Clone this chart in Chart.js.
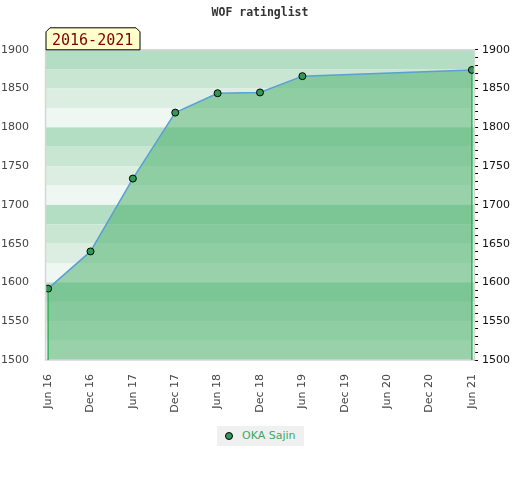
<!DOCTYPE html>
<html lang="en">
<head>
  <meta charset="UTF-8">
  <title>WOF ratinglist</title>
  <script src="https://cdn.jsdelivr.net/npm/chart.js"></script>
  <style>
    body { margin: 0; background: #fff; font-family: "DejaVu Sans", sans-serif; }
    #wrap { position: relative; width: 520px; height: 480px; }
    #legend {
      position: absolute; left: 217px; top: 426px; width: 87px; height: 20px;
      background: #f0f0f0; font-size: 11px; color: #3ea864; line-height: 20px;
    }
    #legend .dot {
      position: absolute; left: 8px; top: 6px; width: 6px; height: 6px;
      border-radius: 50%; background: #2f9a56; border: 1px solid #000;
    }
    #legend .txt { position: absolute; left: 25px; top: 0; }
  </style>
</head>
<body>
  <div id="wrap">
    <canvas id="ratingChart" width="520" height="480"></canvas>
    <div id="legend"><span class="dot"></span><span class="txt">OKA Sajin</span></div>
  </div>

  <script>
    // periods on the x axis
    const periods = ["Jun 16", "Dec 16", "Jun 17", "Dec 17", "Jun 18", "Dec 18",
                     "Jun 19", "Dec 19", "Jun 20", "Dec 20", "Jun 21"];
    // rating per period (null = no list entry)
    const ratings = [1592, 1640, 1734, 1819, 1844, 1845, 1866, null, null, null, 1874];
    const playerName = "OKA Sajin";
    const rangeLabel = "2016-2021";
    const yMin = 1500, yMax = 1900;

    const bandColors = ["#b3dec3", "#c8e6d2", "#dbeee1", "#eef7f1"];

    const points = [];
    ratings.forEach((r, i) => { points.push({ x: i, y: r }); });

    // striped background behind the plot
    const bands = {
      id: "bands",
      beforeDraw(chart) {
        const { ctx, chartArea: a, scales: { y } } = chart;
        ctx.save();
        let k = 0;
        for (let v = yMax; v > yMin; v -= 25) {
          const top = y.getPixelForValue(v), bot = y.getPixelForValue(v - 25);
          ctx.fillStyle = bandColors[k % 4];
          ctx.fillRect(a.left, top, a.right - a.left, bot - top);
          k++;
        }
        ctx.restore();
      },
      afterDatasetsDraw(chart) {
        const { ctx, chartArea: a, scales: { x, y } } = chart;
        ctx.save();
        // plot frame
        ctx.strokeStyle = "#d6d6d6";
        ctx.lineWidth = 1.5;
        ctx.strokeRect(a.left - 0.5, a.top, a.right - a.left + 1, a.bottom - a.top);
        // edges of the filled area
        const valid = points.filter(p => p.y !== null);
        [valid[0], valid[valid.length - 1]].forEach(p => {
          const px = x.getPixelForValue(p.x);
          ctx.strokeStyle = "#34b05c";
          ctx.lineWidth = 1.5;
          ctx.beginPath();
          ctx.moveTo(px, y.getPixelForValue(p.y) + 4);
          ctx.lineTo(px, a.bottom);
          ctx.stroke();
        });
        // period tag
        const l = a.left, r = a.left + 94, t = a.top - 22, b = a.top;
        ctx.beginPath();
        ctx.moveTo(l, b);
        ctx.lineTo(l, t + 4);
        ctx.lineTo(l + 4, t);
        ctx.lineTo(r - 4, t);
        ctx.lineTo(r, t + 4);
        ctx.lineTo(r, b);
        ctx.closePath();
        ctx.fillStyle = "#ffffcc";
        ctx.fill();
        ctx.strokeStyle = "#000";
        ctx.lineWidth = 1;
        ctx.stroke();
        ctx.fillStyle = "#800000";
        ctx.font = "15px 'DejaVu Sans Mono', monospace";
        ctx.textBaseline = "alphabetic";
        ctx.fillText(rangeLabel, l + 6, b - 5);
        ctx.restore();
      }
    };

    new Chart(document.getElementById("ratingChart"), {
      type: "line",
      data: {
        datasets: [{
          label: playerName,
          data: points,
          spanGaps: true,
          tension: 0,
          borderColor: "#5a9fd6",
          borderWidth: 1.5,
          fill: "start",
          backgroundColor: "rgba(71,173,103,0.51)",
          pointRadius: 3.5,
          pointBackgroundColor: "#2f9a56",
          pointBorderColor: "#000",
          pointBorderWidth: 1
        }]
      },
      plugins: [bands],
      options: {
        responsive: false,
        animation: false,
        layout: { padding: 0 },
        plugins: {
          legend: { display: false },
          tooltip: { enabled: false },
          title: {
            display: true,
            text: "WOF ratinglist",
            color: "#333",
            font: { family: "'DejaVu Sans Mono', monospace", size: 11.5, weight: "bold" },
            padding: { top: 6, bottom: 30 }
          }
        },
        scales: {
          x: {
            type: "linear",
            min: -0.05,
            max: 10.05,
            afterBuildTicks: s => { s.ticks = periods.map((_, i) => ({ value: i })); },
            afterFit: s => { s.height = 120; },
            grid: { display: false },
            border: { display: false },
            ticks: {
              autoSkip: false,
              maxRotation: 90,
              minRotation: 90,
              padding: 6,
              color: "#444",
              font: { family: "'DejaVu Sans', sans-serif", size: 11 },
              callback: v => periods[v]
            }
          },
          y: {
            position: "left",
            min: yMin,
            max: yMax,
            afterFit: s => { s.width = 46; },
            grid: { display: false },
            border: { display: false },
            ticks: {
              stepSize: 50,
              padding: 9,
              color: "#444",
              font: { family: "'DejaVu Sans', sans-serif", size: 11 },
              callback: v => String(v)
            }
          },
          y2: {
            position: "right",
            min: yMin,
            max: yMax,
            afterFit: s => { s.width = 46; },
            afterBuildTicks: s => {
              const t = [];
              for (let v = yMin; v <= yMax; v += 10) t.push({ value: v });
              s.ticks = t;
            },
            grid: { drawOnChartArea: false, drawTicks: true, tickLength: 4, tickColor: "#000", tickWidth: 1 },
            border: { display: false },
            ticks: {
              autoSkip: false,
              padding: 4,
              color: "#111",
              font: { family: "'DejaVu Sans', sans-serif", size: 11 },
              callback: v => (v % 50 === 0 ? String(v) : "")
            }
          }
        }
      }
    });
  </script>
</body>
</html>
